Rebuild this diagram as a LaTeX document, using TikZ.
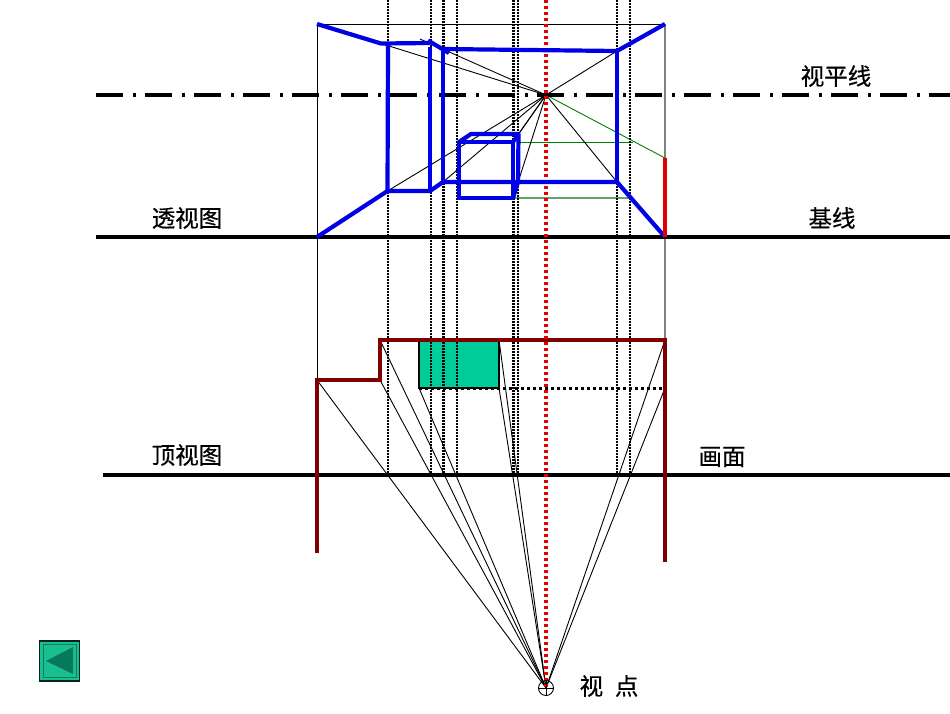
\documentclass[tikz,border=0pt]{standalone}
\usepackage{fontspec}
\setmainfont{Noto Sans CJK SC}
\newfontfamily\cjkheavy[FakeBold=0.5]{Noto Sans CJK SC}
\usetikzlibrary{calc}
\definecolor{wallblue}{RGB}{0,0,230}
\definecolor{planred}{RGB}{128,0,0}
\definecolor{teal1}{RGB}{0,204,153}
\definecolor{btn}{RGB}{25,190,145}
\definecolor{btndark}{RGB}{8,120,90}
\tikzset{
  x=1pt,y=-1pt,
  thinl/.style={draw=black,line width=0.9pt},
  heavy/.style={draw=black,line width=3.5pt},
  dotv/.style={draw=black,line width=2.2pt,dash pattern=on 2pt off 1pt},
  blue/.style={draw=wallblue,line width=4.2pt,line join=round},
  plan/.style={draw=planred,line width=3.6pt,line join=miter},
  grn/.style={draw=green!50!black,line width=0.9pt},
  grnl/.style={draw=green!40!black!60!white,line width=1.2pt},
  lbl/.style={font=\cjkheavy\fontsize{23.5}{24}\selectfont,inner sep=0pt,text=black}
}
\begin{document}
\begin{tikzpicture}
\useasboundingbox (0,0) rectangle (950,713);
% key points
\coordinate (VP) at (546,95);
\coordinate (SP) at (546,688);
\coordinate (TL) at (317,24); \coordinate (TR) at (665,24);
\coordinate (BL) at (317,237); \coordinate (BR) at (665,237);
\coordinate (A1) at (381,43.5); \coordinate (A2) at (388,44); \coordinate (A3) at (430,43);
\coordinate (A4) at (443,49); \coordinate (A5) at (617,51);
\coordinate (B1) at (387.5,191); \coordinate (B2) at (430,191);
\coordinate (B3) at (443,182); \coordinate (B4) at (617,182);
\coordinate (RT) at (665,158);
\coordinate (C1) at (459,142); \coordinate (C2) at (513,142); \coordinate (C3) at (513,198); \coordinate (C4) at (459,198);
\coordinate (D1) at (471,134); \coordinate (D2) at (518.5,134); \coordinate (D3) at (518,182);
\coordinate (E1) at (420,39);
\coordinate (P1) at (317,380); \coordinate (P2) at (380,380); \coordinate (P3) at (380,340);
\coordinate (P4) at (665,340); \coordinate (P5) at (317,553); \coordinate (P6) at (665,562);
\coordinate (Q1) at (419,340); \coordinate (Q2) at (499,388); \coordinate (Q3) at (419,388);
\coordinate (Q4) at (499,340); \coordinate (Q5) at (665,388);
% frame
\draw[thinl] (TL) -- (TR);
\draw[thinl] (TL) -- (P1);
\draw[draw=black!50,line width=1.1pt] (TR) -- (P4);
% green construction
\draw[grn] (VP) -- (RT);
\draw[grn] (D2 |- C1) -- (633,142);
\draw[grnl] (C3) -- (631,198);
% plan fill
\draw[fill=teal1,draw=black,line width=1.1pt] (Q1) rectangle (Q2);
% heavy lines
\draw[heavy,dash pattern=on 27pt off 10pt on 3pt off 9pt] (96,95) -- (950,95);
\draw[heavy] (96,237) -- (950,237);
\draw[heavy] (103,475) -- (950,475);
% vertical projection lines
\foreach \xx in {388,431,443.5,457,513.5,518,617,630}
  \draw[dotv] (\xx,0) -- (\xx,475);
% fan to VP
\foreach \pt in {E1,A1,A5,B1,B3,B4,C2,D2,C3}
  \draw[thinl] (VP) -- (\pt);
% fan to SP
\foreach \pt in {P1,P2,P3,Q3,Q4,Q2,P4,Q5}
  \draw[thinl] (SP) -- (\pt);
% dotted plan line
\draw[draw=black,line width=3pt,dash pattern=on 3pt off 3pt] (Q3) -- (Q5);
% plan outline
\draw[plan] (P5) -- (P1) -- (P2) -- (P3) -- (P4) -- (P6);
% red centre
\draw[draw=red!90!black,line width=3.5pt,dash pattern=on 3pt off 3pt] (546,0) -- (SP);
% blue room
\draw[blue] (TL) -- (A1) -- (A3);
\draw[blue] (428,40.5) -- (449,53);
\draw[blue] (A4) -- (A5) -- (TR);
\draw[blue] (A2) -- (B1);
\draw[blue] (B2) -- (A3 |- 0,47);
\draw[blue] (A4) -- (B3);
\draw[blue] (A5) -- (B4);
\draw[blue] (BL) -- (B1) -- (B2) -- (B3) -- (B4) -- (BR);
\draw[blue] (C1) -- (C2) -- (C3) -- (C4) -- cycle;
\draw[blue] (C1) -- (D1) -- (D2) -- (D3) -- (C3);
\draw[blue] (C2) -- (D2);
\draw[draw=red!90!black,line width=4pt] (RT) -- (BR);
% station point
\node[draw=black,line width=0.9pt,circle,minimum size=15pt,inner sep=0pt] (SC) at (SP) {};
\draw[thinl] (SC.west) -- (SC.east);
\draw[thinl] (SC.north) -- (SC.south);
% labels
\node[lbl] (t1) at (836,76) {视平线};
\node[lbl] (t2) at (187,218) {透视图};
\node[lbl] (t3) at (832,218) {基线};
\node[lbl] (t4) at (187,455) {顶视图};
\node[lbl] (t5) at (722,457) {画面};
\node[lbl] (t6) at (609,686) {视\hspace{0.5em}点};
% back button
\node[draw=black!70!btndark,line width=1.2pt,fill=btn,minimum size=40pt,inner sep=0pt] (bt) at (59.5,661) {};
\node[draw=btn!65!black,line width=1pt,fill=btn,minimum size=33pt,inner sep=0pt] (bi) at (bt.center) {};
\fill[btndark] (46,661) -- (73,647) -- (73,674) -- cycle;
\end{tikzpicture}
\end{document}
